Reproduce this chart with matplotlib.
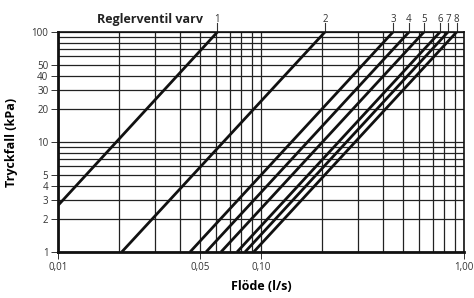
import numpy as np
import matplotlib
matplotlib.use("Agg")
import matplotlib.pyplot as plt
from matplotlib.ticker import FixedLocator, NullFormatter

plt.rcParams['font.family'] = ['Open Sans', 'DejaVu Sans']

# Reglerventil varv (valve turns) and the two end points of each line
varv = ['1', '2', '3', '4', '5', '6', '7', '8']
q_start = [0.010, 0.0206, 0.0447, 0.0536, 0.0635, 0.0762, 0.0834, 0.092]   # l/s
dp_start = [2.65, 1, 1, 1, 1, 1, 1, 1]                                      # kPa
q_end = [0.061, 0.2065, 0.447, 0.536, 0.635, 0.762, 0.834, 0.92]            # l/s
dp_end = [100, 100, 100, 100, 100, 100, 100, 100]                           # kPa

x_ticks = [0.01, 0.05, 0.10, 1.00]
x_ticklabels = ['0,01', '0,05', '0,10', '1,00']
y_ticks = [1, 2, 3, 4, 5, 10, 20, 30, 40, 50, 100]

fig = plt.figure(figsize=(4.74, 2.98), dpi=100)
ax = fig.add_axes([0.1224, 0.1544, 0.8565, 0.7382])

ax.set_xscale('log')
ax.set_yscale('log')
ax.set_xlim(0.01, 1.0)
ax.set_ylim(1, 100)

# full log grid, major and minor
xgrid = [m * 10.0 ** e for e in (-2, -1) for m in range(1, 10)] + [1.0]
ygrid = [m * 10.0 ** e for e in (0, 1) for m in range(1, 10)] + [100.0]
for g in xgrid:
    ax.axvline(g, color='#222222', lw=0.9, zorder=1)
for g in ygrid:
    ax.axhline(g, color='#222222', lw=0.9, zorder=1)

for i in range(len(varv)):
    ax.plot([q_start[i], q_end[i]], [dp_start[i], dp_end[i]],
            color='#111111', lw=2.0, solid_capstyle='butt', zorder=3)
    ax.text(q_end[i], 100 * 1.17, varv[i], ha='center', va='bottom',
            fontsize=7, color='#333333', clip_on=False)
    ax.plot([q_end[i], q_end[i]], [100, 100 * 1.2], color='#333333',
            lw=0.8, clip_on=False, zorder=3)

ax.xaxis.set_major_locator(FixedLocator(x_ticks))
ax.set_xticklabels(x_ticklabels)
ax.xaxis.set_minor_formatter(NullFormatter())
ax.xaxis.set_minor_locator(FixedLocator([]))
ax.yaxis.set_major_locator(FixedLocator(y_ticks))
ax.set_yticklabels([str(v) for v in y_ticks])
ax.yaxis.set_minor_formatter(NullFormatter())
ax.yaxis.set_minor_locator(FixedLocator([]))
ax.tick_params(axis='both', length=5, width=0.7, color='#333333',
               labelsize=7, labelcolor='#333333', pad=2)

for s in ax.spines.values():
    s.set_linewidth(1.2)
    s.set_color('#111111')
    s.set_zorder(4)
ax.spines['left'].set_linewidth(2.0)
ax.spines['bottom'].set_linewidth(2.0)

ax.set_xlabel('Flöde (l/s)', fontsize=9, fontweight='bold', labelpad=5)
ax.set_ylabel('Tryckfall (kPa)', fontsize=9, fontweight='bold', labelpad=10)
fig.text(0.428, 0.934, 'Reglerventil varv', fontsize=9, fontweight='bold',
         ha='right', va='center', color='#222222')

fig.savefig('out.png', dpi=100)
